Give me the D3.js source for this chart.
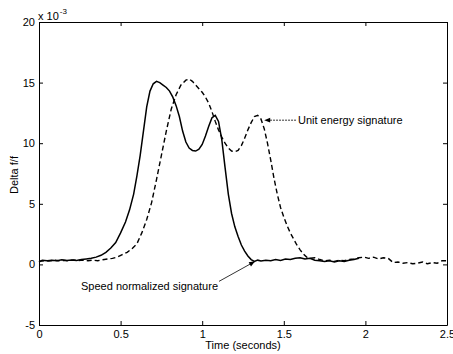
<!DOCTYPE html>
<html>
<head>
<meta charset="utf-8">
<script src="https://cdn.jsdelivr.net/npm/d3@7"></script>
<style>
  body { margin: 0; background: #fff; }
  svg text { font-family: "Liberation Sans", Arial, sans-serif; fill: #000; }
</style>
</head>
<body>
<svg id="chart" width="453" height="354"></svg>
<script>
// Delta f/f signatures (values in units of 1e-3)

// Speed normalized signature (solid)
var speedT = [0.00, 0.02, 0.05, 0.08, 0.11, 0.14, 0.17, 0.20, 0.23, 0.26, 0.29, 0.32, 0.35, 0.38, 0.41, 0.44,
  0.47, 0.50, 0.53, 0.555, 0.58, 0.60, 0.62, 0.64, 0.66, 0.68, 0.70, 0.72, 0.74, 0.76, 0.78, 0.80,
  0.82, 0.84, 0.86, 0.88, 0.90, 0.92, 0.94, 0.96, 0.98, 1.00, 1.02, 1.04, 1.06, 1.08, 1.10, 1.12,
  1.14, 1.16, 1.18, 1.20, 1.22, 1.24, 1.26, 1.28, 1.30, 1.32, 1.34, 1.36, 1.39, 1.42, 1.45, 1.48,
  1.51, 1.54, 1.57, 1.60, 1.63, 1.66, 1.69, 1.72, 1.75, 1.78, 1.81, 1.84, 1.87, 1.90, 1.93, 1.96];
var speedV = [0.2, 0.35, 0.3, 0.35, 0.3, 0.38, 0.32, 0.36, 0.33, 0.4, 0.45, 0.5, 0.6, 0.75, 1.0, 1.35,
  1.8, 2.6, 3.5, 4.5, 5.8, 7.3, 9.0, 11.0, 13.0, 14.3, 14.9, 15.1, 15.0, 14.8, 14.6, 14.3,
  13.8, 13.1, 12.2, 11.0, 10.1, 9.6, 9.4, 9.35, 9.5, 9.9, 10.6, 11.4, 12.1, 12.3, 11.8, 10.3,
  8.0, 5.8, 4.2, 3.1, 2.3, 1.6, 1.1, 0.7, 0.4, 0.25, 0.35, 0.28, 0.35, 0.3, 0.4, 0.33,
  0.45, 0.4, 0.5, 0.55, 0.45, 0.5, 0.35, 0.3, 0.25, 0.3, 0.2, 0.3, 0.25, 0.35, 0.4, 0.5];

// Unit energy signature (dashed)
var energyT = [0.00, 0.03, 0.06, 0.09, 0.12, 0.15, 0.18, 0.21, 0.24, 0.27, 0.30, 0.33, 0.36, 0.39, 0.42, 0.45,
  0.48, 0.51, 0.54, 0.57, 0.60, 0.63, 0.66, 0.69, 0.72, 0.75, 0.78, 0.81, 0.84, 0.87, 0.90, 0.92,
  0.94, 0.96, 0.98, 1.00, 1.02, 1.04, 1.06, 1.08, 1.10, 1.12, 1.14, 1.16, 1.18, 1.20, 1.22, 1.24,
  1.26, 1.28, 1.30, 1.32, 1.34, 1.36, 1.38, 1.40, 1.42, 1.44, 1.46, 1.48, 1.50, 1.52, 1.54, 1.56,
  1.58, 1.60, 1.62, 1.64, 1.66, 1.69, 1.72, 1.75, 1.78, 1.81, 1.84, 1.87, 1.90, 1.93, 1.96, 1.99,
  2.02, 2.05, 2.08, 2.11, 2.14, 2.17, 2.20, 2.23, 2.26, 2.29, 2.32, 2.35, 2.38, 2.41, 2.44, 2.47, 2.50];
var energyV = [0.25, 0.3, 0.28, 0.35, 0.3, 0.33, 0.3, 0.36, 0.32, 0.35, 0.3, 0.35, 0.3, 0.38, 0.45, 0.5,
  0.6, 0.8, 1.0, 1.3, 1.7, 2.6, 3.7, 5.1, 7.0, 9.0, 11.0, 12.8, 14.0, 14.8, 15.2, 15.3,
  15.1, 14.8, 14.5, 14.2, 13.8, 13.3, 12.6, 11.8, 11.1, 10.5, 10.0, 9.6, 9.35, 9.3, 9.4, 9.8,
  10.4, 11.1, 11.7, 12.2, 12.3, 12.0, 11.2, 10.0, 8.6, 7.1, 5.8, 4.7, 3.9, 3.2, 2.6, 2.1,
  1.6, 1.2, 0.85, 0.6, 0.5, 0.55, 0.4, 0.3, 0.35, 0.25, 0.35, 0.3, 0.4, 0.45, 0.55, 0.6,
  0.5, 0.6, 0.45, 0.55, 0.5, 0.15, 0.2, 0.1, 0.15, 0.05, 0.1, 0.2, 0.05, 0.15, 0.1, 0.3, 0.3];

var xTicks = [0, 0.5, 1, 1.5, 2, 2.5];
var yTicks = [-5, 0, 5, 10, 15, 20];

// Layout
var margin = {top: 22, right: 6, bottom: 29, left: 39},
    width = 453 - margin.left - margin.right,
    height = 354 - margin.top - margin.bottom;

var svg = d3.select("#chart");
var g = svg.append("g")
    .attr("transform", "translate(" + margin.left + "," + margin.top + ")");

var x = d3.scaleLinear().domain([0, 2.5]).range([0, width]);
var y = d3.scaleLinear().domain([-5, 20]).range([height, 0]);

var fmt = function(d) { return String(d); };

// Axes (MATLAB style box, inward ticks)
var styleAxis = function(sel) {
  sel.selectAll("path.domain").attr("stroke", "#000").attr("stroke-width", 1);
  sel.selectAll(".tick line").attr("stroke", "#000");
  sel.selectAll("text").attr("font-size", 11).attr("fill", "#000");
  sel.attr("font-family", null);
};

g.append("g")
    .attr("transform", "translate(0," + height + ")")
    .call(d3.axisBottom(x).tickValues(xTicks).tickFormat(fmt).tickSizeInner(-4).tickSizeOuter(0).tickPadding(5))
    .call(styleAxis);
g.append("g")
    .call(d3.axisTop(x).tickValues(xTicks).tickFormat("").tickSizeInner(-4).tickSizeOuter(0))
    .call(styleAxis);
g.append("g")
    .call(d3.axisLeft(y).tickValues(yTicks).tickFormat(fmt).tickSizeInner(-4).tickSizeOuter(0).tickPadding(4))
    .call(styleAxis);
g.append("g")
    .attr("transform", "translate(" + width + ",0)")
    .call(d3.axisRight(y).tickValues(yTicks).tickFormat("").tickSizeInner(-4).tickSizeOuter(0))
    .call(styleAxis);

// Exponent label
var expo = svg.append("text").attr("x", 38).attr("y", 20).attr("font-size", 11);
expo.append("tspan").text("x 10");
expo.append("tspan").attr("font-size", 8).attr("dy", -6).attr("dx", 1).text("-3");

// Axis titles
svg.append("text")
    .attr("x", margin.left + width / 2).attr("y", 349)
    .attr("text-anchor", "middle").attr("font-size", 11)
    .text("Time (seconds)");
svg.append("text")
    .attr("transform", "translate(18," + 175 + ") rotate(-90)")
    .attr("text-anchor", "middle").attr("font-size", 11)
    .text("Delta f/f");

// Lines
var line = d3.line()
    .x(function(d) { return x(d[0]); })
    .y(function(d) { return y(d[1]); });

var speedData = d3.zip(speedT, speedV);
var energyData = d3.zip(energyT, energyV);

g.append("path")
    .datum(energyData)
    .attr("fill", "none")
    .attr("stroke", "#000")
    .attr("stroke-width", 1.4)
    .attr("stroke-dasharray", "5,3")
    .attr("d", line);

g.append("path")
    .datum(speedData)
    .attr("fill", "none")
    .attr("stroke", "#000")
    .attr("stroke-width", 1.5)
    .attr("d", line);

// Annotations
var arrowHead = function(tip, from, size) {
  var dx = tip[0] - from[0], dy = tip[1] - from[1];
  var len = Math.sqrt(dx * dx + dy * dy);
  var ux = dx / len, uy = dy / len;
  var bx = tip[0] - ux * size, by = tip[1] - uy * size;
  var px = -uy * size * 0.4, py = ux * size * 0.4;
  return "M" + tip[0] + "," + tip[1] + "L" + (bx + px) + "," + (by + py) + "L" + (bx - px) + "," + (by - py) + "Z";
};

// Unit energy signature
var ueTip = [x(1.38), y(11.9)], ueTail = [x(1.575), y(11.9)];
g.append("line")
    .attr("x1", ueTail[0]).attr("y1", ueTail[1]).attr("x2", ueTip[0] + 3).attr("y2", ueTip[1])
    .attr("stroke", "#000").attr("stroke-width", 0.8).attr("stroke-dasharray", "2,1");
g.append("path").attr("d", arrowHead(ueTip, ueTail, 6)).attr("fill", "#000");
g.append("text")
    .attr("x", x(1.587)).attr("y", y(11.55))
    .attr("font-size", 11)
    .text("Unit energy signature");

// Speed normalized signature
var snTip = [x(1.324), y(0.25)], snTail = [x(1.103), y(-1.4)];
g.append("line")
    .attr("x1", snTail[0]).attr("y1", snTail[1]).attr("x2", snTip[0]).attr("y2", snTip[1])
    .attr("stroke", "#000").attr("stroke-width", 0.8);
g.append("path").attr("d", arrowHead(snTip, snTail, 6)).attr("fill", "#000");
g.append("text")
    .attr("x", x(1.097)).attr("y", y(-2.15))
    .attr("text-anchor", "end")
    .attr("font-size", 11)
    .text("Speed normalized signature");
</script>
</body>
</html>
